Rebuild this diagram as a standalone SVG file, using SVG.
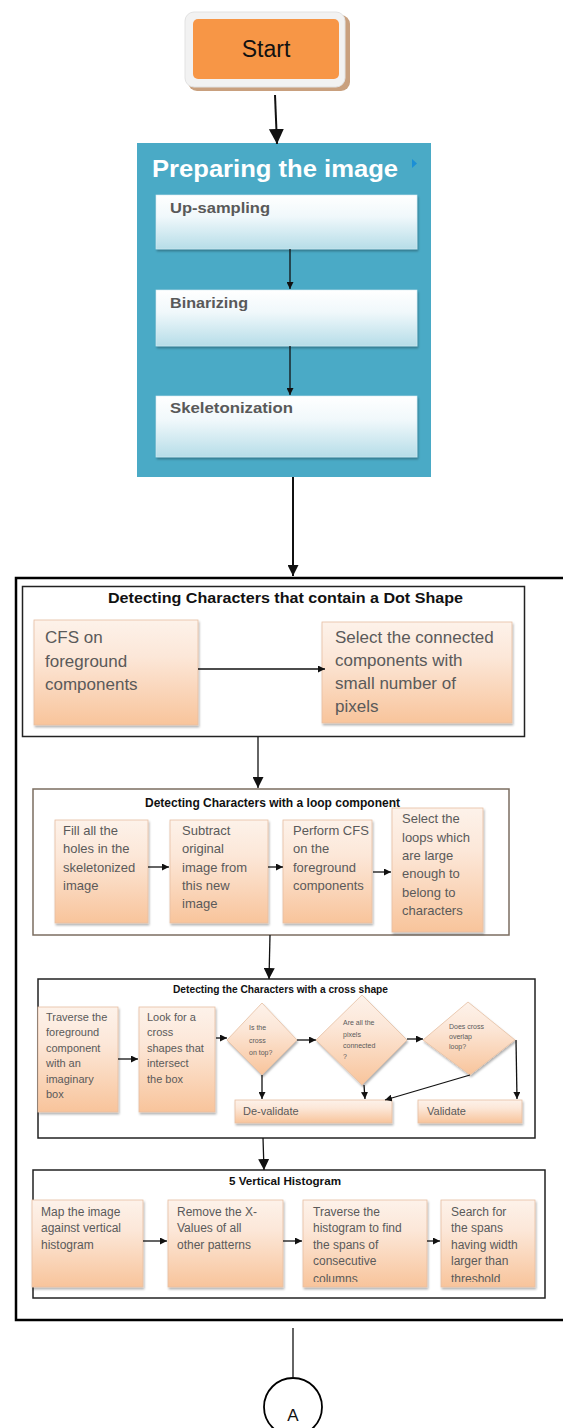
<svg xmlns="http://www.w3.org/2000/svg" width="563" height="1428" viewBox="0 0 563 1428">
<defs>
  <linearGradient id="og" x1="0" y1="0" x2="0" y2="1">
    <stop offset="0" stop-color="#fdf2ea"/>
    <stop offset="0.35" stop-color="#fce7d8"/>
    <stop offset="1" stop-color="#f8c49b"/>
  </linearGradient>
  <linearGradient id="bgr" x1="0" y1="0" x2="0" y2="1">
    <stop offset="0" stop-color="#ffffff"/>
    <stop offset="0.4" stop-color="#f0f8fb"/>
    <stop offset="1" stop-color="#b6dde8"/>
  </linearGradient>
  <filter id="sh" x="-10%" y="-10%" width="130%" height="130%">
    <feDropShadow dx="1" dy="2" stdDeviation="1.2" flood-color="#000" flood-opacity="0.3"/>
  </filter>
  <marker id="as" viewBox="0 0 10 10" refX="10" refY="5" markerWidth="7" markerHeight="7" orient="auto" markerUnits="userSpaceOnUse">
    <path d="M0,0 L10,5 L0,10 z" fill="#111"/>
  </marker>
  <marker id="am" viewBox="0 0 10 10" refX="10" refY="5" markerWidth="11" markerHeight="11" orient="auto" markerUnits="userSpaceOnUse">
    <path d="M0,0 L10,5 L0,10 z" fill="#111"/>
  </marker>
  <marker id="al" viewBox="0 0 10 10" refX="10" refY="5" markerWidth="15" markerHeight="16" orient="auto" markerUnits="userSpaceOnUse">
    <path d="M0,0 L10,5 L0,10 z" fill="#111"/>
  </marker>
  <clipPath id="clipH"><rect x="300" y="1195" width="240" height="87"/></clipPath>
</defs>
<style>
  .ob{fill:url(#og);stroke:#e6bfa2;stroke-width:0.8;filter:url(#sh);}
  .bb{fill:url(#bgr);stroke:#d6ecf2;stroke-width:0.6;filter:url(#sh);}
  .tx{font-family:"Liberation Sans",Arial,sans-serif;fill:#5a5a5a;}
  .bt{font-family:"Liberation Sans",Arial,sans-serif;font-weight:bold;fill:#595959;font-size:15px;}
  .hd{font-family:"Liberation Sans",Arial,sans-serif;font-weight:bold;fill:#111;}
  .frame{fill:#fff;stroke:#222;stroke-width:1.5;}
  .c{stroke:#111;stroke-width:1.3;fill:none;}
  .ck{stroke:#111;stroke-width:2;fill:none;}
</style>
<rect x="0" y="0" width="563" height="1428" fill="#fff"/>

<g id="start">
  <rect x="188" y="15" width="162" height="76" rx="9" fill="#c9a07e"/>
  <rect x="185" y="12" width="160" height="75" rx="9" fill="#f2f2f2" stroke="#e2e2e2"/>
  <rect x="193" y="19" width="146" height="60" rx="5" fill="#f79646"/>
  <text x="266" y="57" text-anchor="middle" font-family="Liberation Sans,Arial,sans-serif" font-size="23" fill="#111">Start</text>
</g>

<g id="prep">
  <rect x="137" y="143" width="294" height="334" fill="#4aaac6"/>
  <text x="152" y="177" font-family="Liberation Sans,Arial,sans-serif" font-weight="bold" font-size="24" fill="#fff" textLength="246" lengthAdjust="spacingAndGlyphs">Preparing the image</text>
  <polygon points="412,159 417,163.5 412,168" fill="#1b8fd6"/>
  <g id="upsampling">
    <rect class="bb" x="156" y="195" width="261" height="54"/>
    <text class="bt" x="170" y="213" textLength="100" lengthAdjust="spacingAndGlyphs">Up-sampling</text>
  </g>
  <g id="binarizing">
    <rect class="bb" x="156" y="290" width="261" height="56"/>
    <text class="bt" x="170" y="308" textLength="78" lengthAdjust="spacingAndGlyphs">Binarizing</text>
  </g>
  <g id="skeletonization">
    <rect class="bb" x="156" y="396" width="261" height="61"/>
    <text class="bt" x="170" y="413" textLength="123" lengthAdjust="spacingAndGlyphs">Skeletonization</text>
  </g>
</g>

<g id="main">
  <rect x="16" y="578" width="560" height="742" fill="none" stroke="#000" stroke-width="2.5"/>
</g>

<g id="dot">
  <rect class="frame" x="22.5" y="586.5" width="502" height="150"/>
  <text class="hd" x="108" y="603" font-size="15" textLength="355" lengthAdjust="spacingAndGlyphs">Detecting Characters that contain a Dot Shape</text>
  <g id="cfs">
    <rect class="ob" x="34" y="620" width="164" height="105"/>
    <text class="tx" font-size="17"><tspan x="45" y="643">CFS on</tspan><tspan x="45" y="667">foreground</tspan><tspan x="45" y="690">components</tspan></text>
  </g>
  <g id="selectcc">
    <rect class="ob" x="322" y="622" width="190" height="101"/>
    <text class="tx" font-size="17"><tspan x="335" y="643">Select the connected</tspan><tspan x="335" y="666">components with</tspan><tspan x="335" y="689">small number of</tspan><tspan x="335" y="712">pixels</tspan></text>
  </g>
</g>

<g id="loop">
  <rect class="frame" x="33" y="789" width="476" height="146" style="stroke:#7b6d60"/>
  <text class="hd" x="145" y="807" font-size="12" textLength="255" lengthAdjust="spacingAndGlyphs">Detecting Characters with a loop component</text>
  <g id="fill">
    <rect class="ob" x="55" y="820" width="93" height="103"/>
    <text class="tx" font-size="13"><tspan x="63" y="835">Fill all the</tspan><tspan x="63" y="853">holes in the</tspan><tspan x="63" y="872">skeletonized</tspan><tspan x="63" y="890">image</tspan></text>
  </g>
  <g id="subtract">
    <rect class="ob" x="170" y="820" width="98" height="103"/>
    <text class="tx" font-size="13"><tspan x="182" y="835">Subtract</tspan><tspan x="182" y="853">original</tspan><tspan x="182" y="872">image from</tspan><tspan x="182" y="890">this new</tspan><tspan x="182" y="908">image</tspan></text>
  </g>
  <g id="perform">
    <rect class="ob" x="283" y="820" width="89" height="103"/>
    <text class="tx" font-size="13"><tspan x="293" y="835">Perform CFS</tspan><tspan x="293" y="853">on the</tspan><tspan x="293" y="872">foreground</tspan><tspan x="293" y="890">components</tspan></text>
  </g>
  <g id="selectloops">
    <rect class="ob" x="392" y="808" width="91" height="124"/>
    <text class="tx" font-size="13"><tspan x="402" y="823">Select the</tspan><tspan x="402" y="842">loops which</tspan><tspan x="402" y="860">are large</tspan><tspan x="402" y="878">enough to</tspan><tspan x="402" y="897">belong to</tspan><tspan x="402" y="915">characters</tspan></text>
  </g>
</g>

<g id="cross">
  <rect class="frame" x="38" y="979" width="497" height="159"/>
  <text class="hd" x="173" y="993" font-size="10" textLength="215" lengthAdjust="spacingAndGlyphs">Detecting the Characters with a cross shape</text>
  <g id="traverse">
    <rect class="ob" x="38" y="1007" width="80" height="105"/>
    <text class="tx" font-size="11"><tspan x="46" y="1021">Traverse the</tspan><tspan x="46" y="1036">foreground</tspan><tspan x="46" y="1052">component</tspan><tspan x="46" y="1067">with an</tspan><tspan x="46" y="1083">imaginary</tspan><tspan x="46" y="1098">box</tspan></text>
  </g>
  <g id="lookfor">
    <rect class="ob" x="139" y="1007" width="76" height="105"/>
    <text class="tx" font-size="11"><tspan x="147" y="1021">Look for a</tspan><tspan x="147" y="1036">cross</tspan><tspan x="147" y="1052">shapes that</tspan><tspan x="147" y="1067">intersect</tspan><tspan x="147" y="1083">the box</tspan></text>
  </g>
  <g id="d1">
    <polygon class="ob" points="262,1003 297,1040 262,1075 227,1040"/>
    <text class="tx" font-size="7"><tspan x="249" y="1030">Is the</tspan><tspan x="249" y="1043">cross</tspan><tspan x="249" y="1055">on top?</tspan></text>
  </g>
  <g id="d2">
    <polygon class="ob" points="362,995 407,1040 362,1085 316,1040"/>
    <text class="tx" font-size="7"><tspan x="343" y="1025">Are all the</tspan><tspan x="343" y="1037">pixels</tspan><tspan x="343" y="1048">connected</tspan><tspan x="343" y="1059">?</tspan></text>
  </g>
  <g id="d3">
    <polygon class="ob" points="468,1002 515,1040 470,1075 423,1040"/>
    <text class="tx" font-size="7"><tspan x="449" y="1029">Does cross</tspan><tspan x="449" y="1039">overlap</tspan><tspan x="449" y="1049">loop?</tspan></text>
  </g>
  <g id="devalidate">
    <rect class="ob" x="235" y="1100" width="157" height="23"/>
    <text class="tx" font-size="11" x="243" y="1115">De-validate</text>
  </g>
  <g id="validate">
    <rect class="ob" x="418" y="1100" width="104" height="23"/>
    <text class="tx" font-size="11" x="427" y="1115">Validate</text>
  </g>
</g>

<g id="hist">
  <rect class="frame" x="33" y="1170" width="512" height="128"/>
  <text class="hd" x="229" y="1185" font-size="11" textLength="112" lengthAdjust="spacingAndGlyphs">5 Vertical Histogram</text>
  <g id="map">
    <rect class="ob" x="32" y="1200" width="111" height="87"/>
    <text class="tx" font-size="12"><tspan x="41" y="1216">Map the image</tspan><tspan x="41" y="1232">against vertical</tspan><tspan x="41" y="1249">histogram</tspan></text>
  </g>
  <g id="remove">
    <rect class="ob" x="168" y="1200" width="115" height="87"/>
    <text class="tx" font-size="12"><tspan x="177" y="1216">Remove the X-</tspan><tspan x="177" y="1232">Values of all</tspan><tspan x="177" y="1249">other patterns</tspan></text>
  </g>
  <g id="traversehist">
    <rect class="ob" x="303" y="1200" width="124" height="87"/>
    <text class="tx" font-size="12" clip-path="url(#clipH)"><tspan x="313" y="1216">Traverse the</tspan><tspan x="313" y="1232">histogram to find</tspan><tspan x="313" y="1249">the spans of</tspan><tspan x="313" y="1265">consecutive</tspan><tspan x="313" y="1283">columns</tspan></text>
  </g>
  <g id="search">
    <rect class="ob" x="441" y="1200" width="94" height="87"/>
    <text class="tx" font-size="12" clip-path="url(#clipH)"><tspan x="451" y="1216">Search for</tspan><tspan x="451" y="1232">the spans</tspan><tspan x="451" y="1249">having width</tspan><tspan x="451" y="1265">larger than</tspan><tspan x="451" y="1283">threshold</tspan></text>
  </g>
</g>

<g id="connectorA">
  <circle cx="293" cy="1407" r="29" fill="none" stroke="#000" stroke-width="1.8"/>
  <text x="293" y="1421" text-anchor="middle" font-family="Liberation Sans,Arial,sans-serif" font-size="17" fill="#111">A</text>
</g>

<g id="connectors">
  <line class="ck" x1="275" y1="95" x2="277" y2="144" marker-end="url(#al)"/>
  <line class="c" x1="290" y1="249" x2="290" y2="289" marker-end="url(#as)"/>
  <line class="c" x1="290" y1="346" x2="290" y2="395" marker-end="url(#as)"/>
  <line class="ck" x1="293" y1="477" x2="293" y2="576" marker-end="url(#am)"/>
  <line class="c" x1="198" y1="669" x2="325" y2="669" marker-end="url(#as)"/>
  <line class="c" x1="258" y1="737" x2="258" y2="788" marker-end="url(#am)"/>
  <line class="c" x1="148" y1="867" x2="169" y2="867" marker-end="url(#as)"/>
  <line class="c" x1="268" y1="867" x2="283" y2="867" marker-end="url(#as)"/>
  <line class="c" x1="373" y1="872" x2="391" y2="872" marker-end="url(#as)"/>
  <line class="c" x1="270" y1="935" x2="269" y2="979" marker-end="url(#am)"/>
  <line class="c" x1="118" y1="1059" x2="138" y2="1059" marker-end="url(#as)"/>
  <line class="c" x1="216" y1="1038" x2="227" y2="1038" marker-end="url(#as)"/>
  <line class="c" x1="297" y1="1040" x2="316" y2="1040" marker-end="url(#as)"/>
  <line class="c" x1="407" y1="1039" x2="423" y2="1039" marker-end="url(#as)"/>
  <line class="c" x1="262" y1="1075" x2="262" y2="1099" marker-end="url(#as)"/>
  <line class="c" x1="364" y1="1085" x2="365" y2="1099" marker-end="url(#as)"/>
  <line class="c" x1="470" y1="1075" x2="385" y2="1100" marker-end="url(#as)"/>
  <line class="c" x1="516" y1="1040" x2="517" y2="1099" marker-end="url(#as)"/>
  <line class="c" x1="263" y1="1138" x2="264" y2="1170" marker-end="url(#am)"/>
  <line class="c" x1="143" y1="1241" x2="167" y2="1241" marker-end="url(#as)"/>
  <line class="c" x1="283" y1="1241" x2="302" y2="1241" marker-end="url(#as)"/>
  <line class="c" x1="427" y1="1241" x2="440" y2="1241" marker-end="url(#as)"/>
  <line class="c" x1="293" y1="1328" x2="293" y2="1378"/>
</g>
</svg>
